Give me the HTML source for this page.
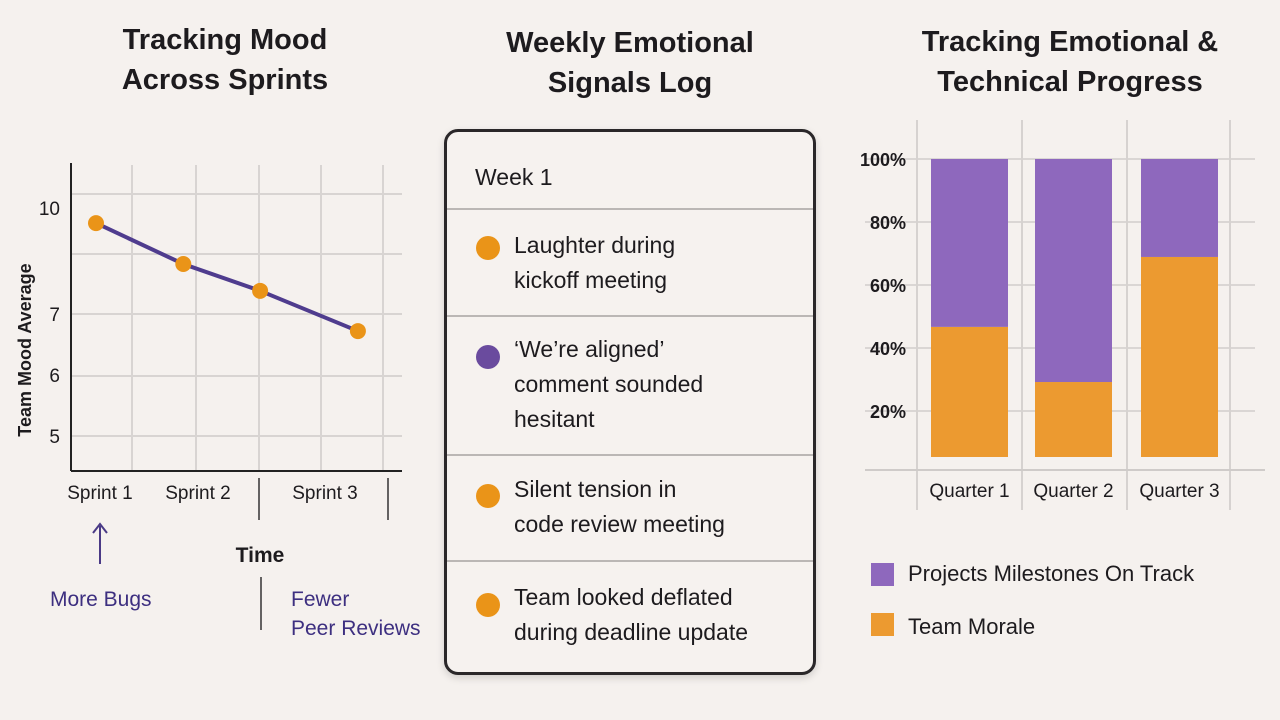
<!DOCTYPE html>
<html><head><meta charset="utf-8">
<style>
body{margin:0;width:1280px;height:720px;background:#f5f1ee;font-family:"Liberation Sans",sans-serif;overflow:hidden;position:relative}
.t{position:absolute;font-weight:bold;font-size:29px;color:#1d1b1e;text-align:center;line-height:40px}
svg{position:absolute;left:0;top:0}
.card{position:absolute;left:444px;top:129px;width:366px;height:540px;border:3px solid #2a2729;border-radius:14px;background:#f6f2ef;box-shadow:0 3px 8px rgba(0,0,0,.15)}
.row{position:absolute;left:0;width:366px;border-top:2px solid #bbb7b5}
.txt{position:absolute;left:67px;font-size:23px;line-height:35px;color:#1d1b1e}
.dot{position:absolute;left:29px;width:24px;height:24px;border-radius:50%}
.lg{position:absolute;font-size:22px;color:#1d1b1e}
.sw{position:absolute;width:23px;height:23px}
</style></head><body>
<div class="t" style="left:60px;top:20px;width:330px">Tracking Mood<br>Across Sprints</div>
<div class="t" style="left:465px;top:23px;width:330px">Weekly Emotional<br>Signals Log</div>
<div class="t" style="left:895px;top:22px;width:350px">Tracking Emotional &amp;<br>Technical Progress</div>

<svg id="chart" width="1280" height="720"></svg>

<div class="card">
  <div class="txt" style="left:28px;top:28px">Week 1</div>
  <div class="row" style="top:76px"></div>
  <div class="dot" style="top:104px;background:#ea9418"></div>
  <div class="txt" style="top:96px">Laughter during<br>kickoff meeting</div>
  <div class="row" style="top:183px"></div>
  <div class="dot" style="top:213px;background:#6a4b9e"></div>
  <div class="txt" style="top:200px">‘We’re aligned’<br>comment sounded<br>hesitant</div>
  <div class="row" style="top:322px"></div>
  <div class="dot" style="top:352px;background:#ea9418"></div>
  <div class="txt" style="top:340px">Silent tension in<br>code review meeting</div>
  <div class="row" style="top:428px"></div>
  <div class="dot" style="top:461px;background:#ea9418"></div>
  <div class="txt" style="top:448px">Team looked deflated<br>during deadline update</div>
</div>

<div class="sw" style="left:871px;top:563px;background:#8e68bd"></div>
<div class="lg" style="left:908px;top:561px">Projects Milestones On Track</div>
<div class="sw" style="left:871px;top:613px;background:#ec9a30"></div>
<div class="lg" style="left:908px;top:614px">Team Morale</div>

<script>
const sprintLabels=["Sprint 1","Sprint 2","Sprint 3"];
const moodValues=[8.49,7.82,7.38,6.72];
const moodTickValues=[8.74,7,6,5];
const moodTickLabels=["10","7","6","5"];
const quarters=["Quarter 1","Quarter 2","Quarter 3"];
const moraleValues=[46.7,29.2,68.9];
const totalValues=[100,100,100];
const pctTicks=[100,80,60,40,20];

const svg=document.getElementById('chart');
const NS='http://www.w3.org/2000/svg';
function mk(tag,attrs,name,parent){const e=document.createElementNS(NS,tag);for(const k in attrs)e.setAttribute(k,attrs[k]);


(parent||svg).appendChild(e);return e;}
function tx(x,y,s,attrs,name){const e=mk('text',Object.assign({x:x,y:y,'font-family':'Liberation Sans, sans-serif',fill:'#1d1b1e'},attrs),name);e.textContent=s;return e;}

// ---- left line chart
const ly=v=>314-(v-7)*61;
const px=[0,1,1.88,3].map(f=>96+f*87.3);
[194,254,314,376,436].forEach(y=>mk('line',{x1:71,x2:402,y1:y,y2:y,stroke:'#d8d4d2','stroke-width':2},'grid-h'));
[132,196,259,321,383].forEach(x=>mk('line',{x1:x,x2:x,y1:165,y2:471,stroke:'#d8d4d2','stroke-width':2},'grid-v'));
mk('line',{x1:71,x2:71,y1:163,y2:471,stroke:'#222','stroke-width':2},'y-axis');
mk('line',{x1:71,x2:402,y1:471,y2:471,stroke:'#222','stroke-width':2},'x-axis');
moodTickValues.forEach((v,i)=>tx(60,ly(v)+7,moodTickLabels[i],{'font-size':19,'text-anchor':'end'},'y-tick-label'));
const pts=moodValues.map((v,i)=>[px[i],ly(v)]);
mk('polyline',{points:pts.map(p=>p.join(',')).join(' '),fill:'none',stroke:'#4f3c8e','stroke-width':4},'mood-line');
pts.forEach(p=>mk('circle',{cx:p[0],cy:p[1],r:8,fill:'#ea9418'},'mood-point'));
[100,198,325].forEach((x,i)=>tx(x,499,sprintLabels[i],{'font-size':19,'text-anchor':'middle'},'x-tick-label'));
[259,388].forEach(x=>mk('line',{x1:x,x2:x,y1:478,y2:520,stroke:'#333','stroke-width':1.5},'sprint-divider'));
tx(0,0,'Team Mood Average',{'font-size':18,'font-weight':'bold','text-anchor':'middle',transform:'translate(31,350) rotate(-90)'},'y-axis-title');
tx(260,562,'Time',{'font-size':21,'font-weight':'bold','text-anchor':'middle'},'x-axis-title');
mk('line',{x1:100,x2:100,y1:526,y2:564,stroke:'#4a3a86','stroke-width':2},'arrow-shaft');
mk('polyline',{points:'93,533 100,524 107,533',fill:'none',stroke:'#4a3a86','stroke-width':2},'arrow-head');
tx(50,606,'More Bugs',{'font-size':21,fill:'#3d2f80'},'annotation-more-bugs');
mk('line',{x1:261,x2:261,y1:577,y2:630,stroke:'#333','stroke-width':1.5},'annotation-divider');
tx(291,606,'Fewer',{'font-size':21,fill:'#3d2f80'},'annotation-fewer');
tx(291,635,'Peer Reviews',{'font-size':21,fill:'#3d2f80'},'annotation-peer-reviews');

// ---- right stacked bar chart
const ry=v=>411-(v-20)*3.15;
const base=5.4;
const bx=[931,1035,1141],bw=77;
pctTicks.forEach(v=>{mk('line',{x1:865,x2:1255,y1:ry(v),y2:ry(v),stroke:'#dad6d4','stroke-width':2},'grid-h');
tx(906,ry(v)+7,v+'%',{'font-size':18,'font-weight':'bold','text-anchor':'end'},'y-tick-label');});
[917,1022,1127,1230].forEach(x=>mk('line',{x1:x,x2:x,y1:120,y2:510,stroke:'#d6d2d0','stroke-width':2},'grid-v'));
mk('line',{x1:865,x2:1265,y1:470,y2:470,stroke:'#cfcbc9','stroke-width':2},'x-axis');
quarters.forEach((q,i)=>{
  const m=moraleValues[i],t=totalValues[i];
  mk('rect',{x:bx[i],y:ry(m),width:bw,height:ry(base)-ry(m),fill:'#ec9a30'},'bar-morale-'+(i+1));
  mk('rect',{x:bx[i],y:ry(t),width:bw,height:ry(m)-ry(t),fill:'#8e68bd'},'bar-milestones-'+(i+1));
  tx(bx[i]+bw/2,497,q,{'font-size':19,'text-anchor':'middle'},'x-tick-label');
});
</script>
</body></html>
